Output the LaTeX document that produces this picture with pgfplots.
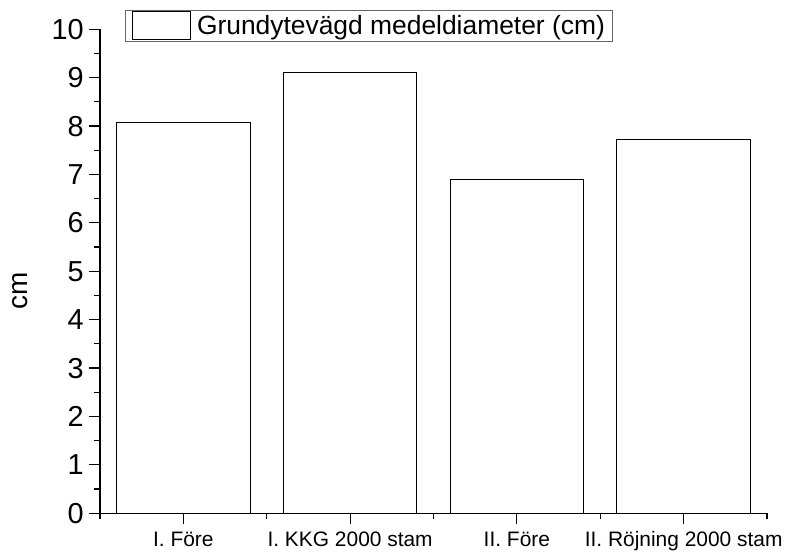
\documentclass[border=0pt]{standalone}
\usepackage{fontspec}
\setmainfont{Liberation Sans}
\usepackage{graphicx}
\usepackage{pgfplots}
\pgfplotsset{compat=1.18}
\begin{document}
\begin{tikzpicture}
\useasboundingbox (-100bp,-41.7bp) rectangle (686bp,513.3bp);
\begin{axis}[
  scale only axis,
  width=667bp, height=484bp,
  xmin=0.5, xmax=4.5, ymin=0, ymax=10,
  axis x line=bottom, axis y line=left,
  axis line style={-, black, line width=1.2bp},
  ytick={0,1,...,10},
  minor y tick num=1,
  xtick={1,2,3,4},
  minor xtick={0.5,1.5,2.5,3.5,4.5},
  xticklabels={I. Före, I. KKG 2000 stam, II. Före, II. Röjning 2000 stam},
  tick align=outside,
  major tick length=11bp, minor tick length=6bp,
  tick style={black, line width=1.2bp},
  /pgf/number format/assume math mode=true,
  yticklabel style={font=\fontsize{29}{32}\selectfont, inner sep=0bp, xshift=-5bp},
  xticklabel style={font=\fontsize{21}{25}\selectfont, yshift=-4bp},
  ylabel={cm},
  every axis y label/.style={at={(axis description cs:-0.12,0.46)}, rotate=90, anchor=center, font=\fontsize{28}{30}\selectfont},
  ybar, bar width=0.8,
  legend style={at={(axis description cs:0.0375,1.04)}, anchor=north west,
    draw=black!60, line width=1bp, font=\fontsize{26.5}{30}\selectfont,
    inner xsep=6bp, inner ysep=1bp, legend cell align=left},
  legend image code/.code={\draw[black, line width=1bp, fill=white] (0bp,-14bp) rectangle (58bp,14bp); \path[draw=none,fill=none] (63bp,0bp) circle (0.01bp);},
  clip=false,
]
\addplot[draw=black, fill=white, line width=1bp] coordinates {(1,8.08) (2,9.11) (3,6.89) (4,7.72)};
\addlegendentry{Grundytevägd medeldiameter (cm)}
\end{axis}
\end{tikzpicture}
\end{document}
